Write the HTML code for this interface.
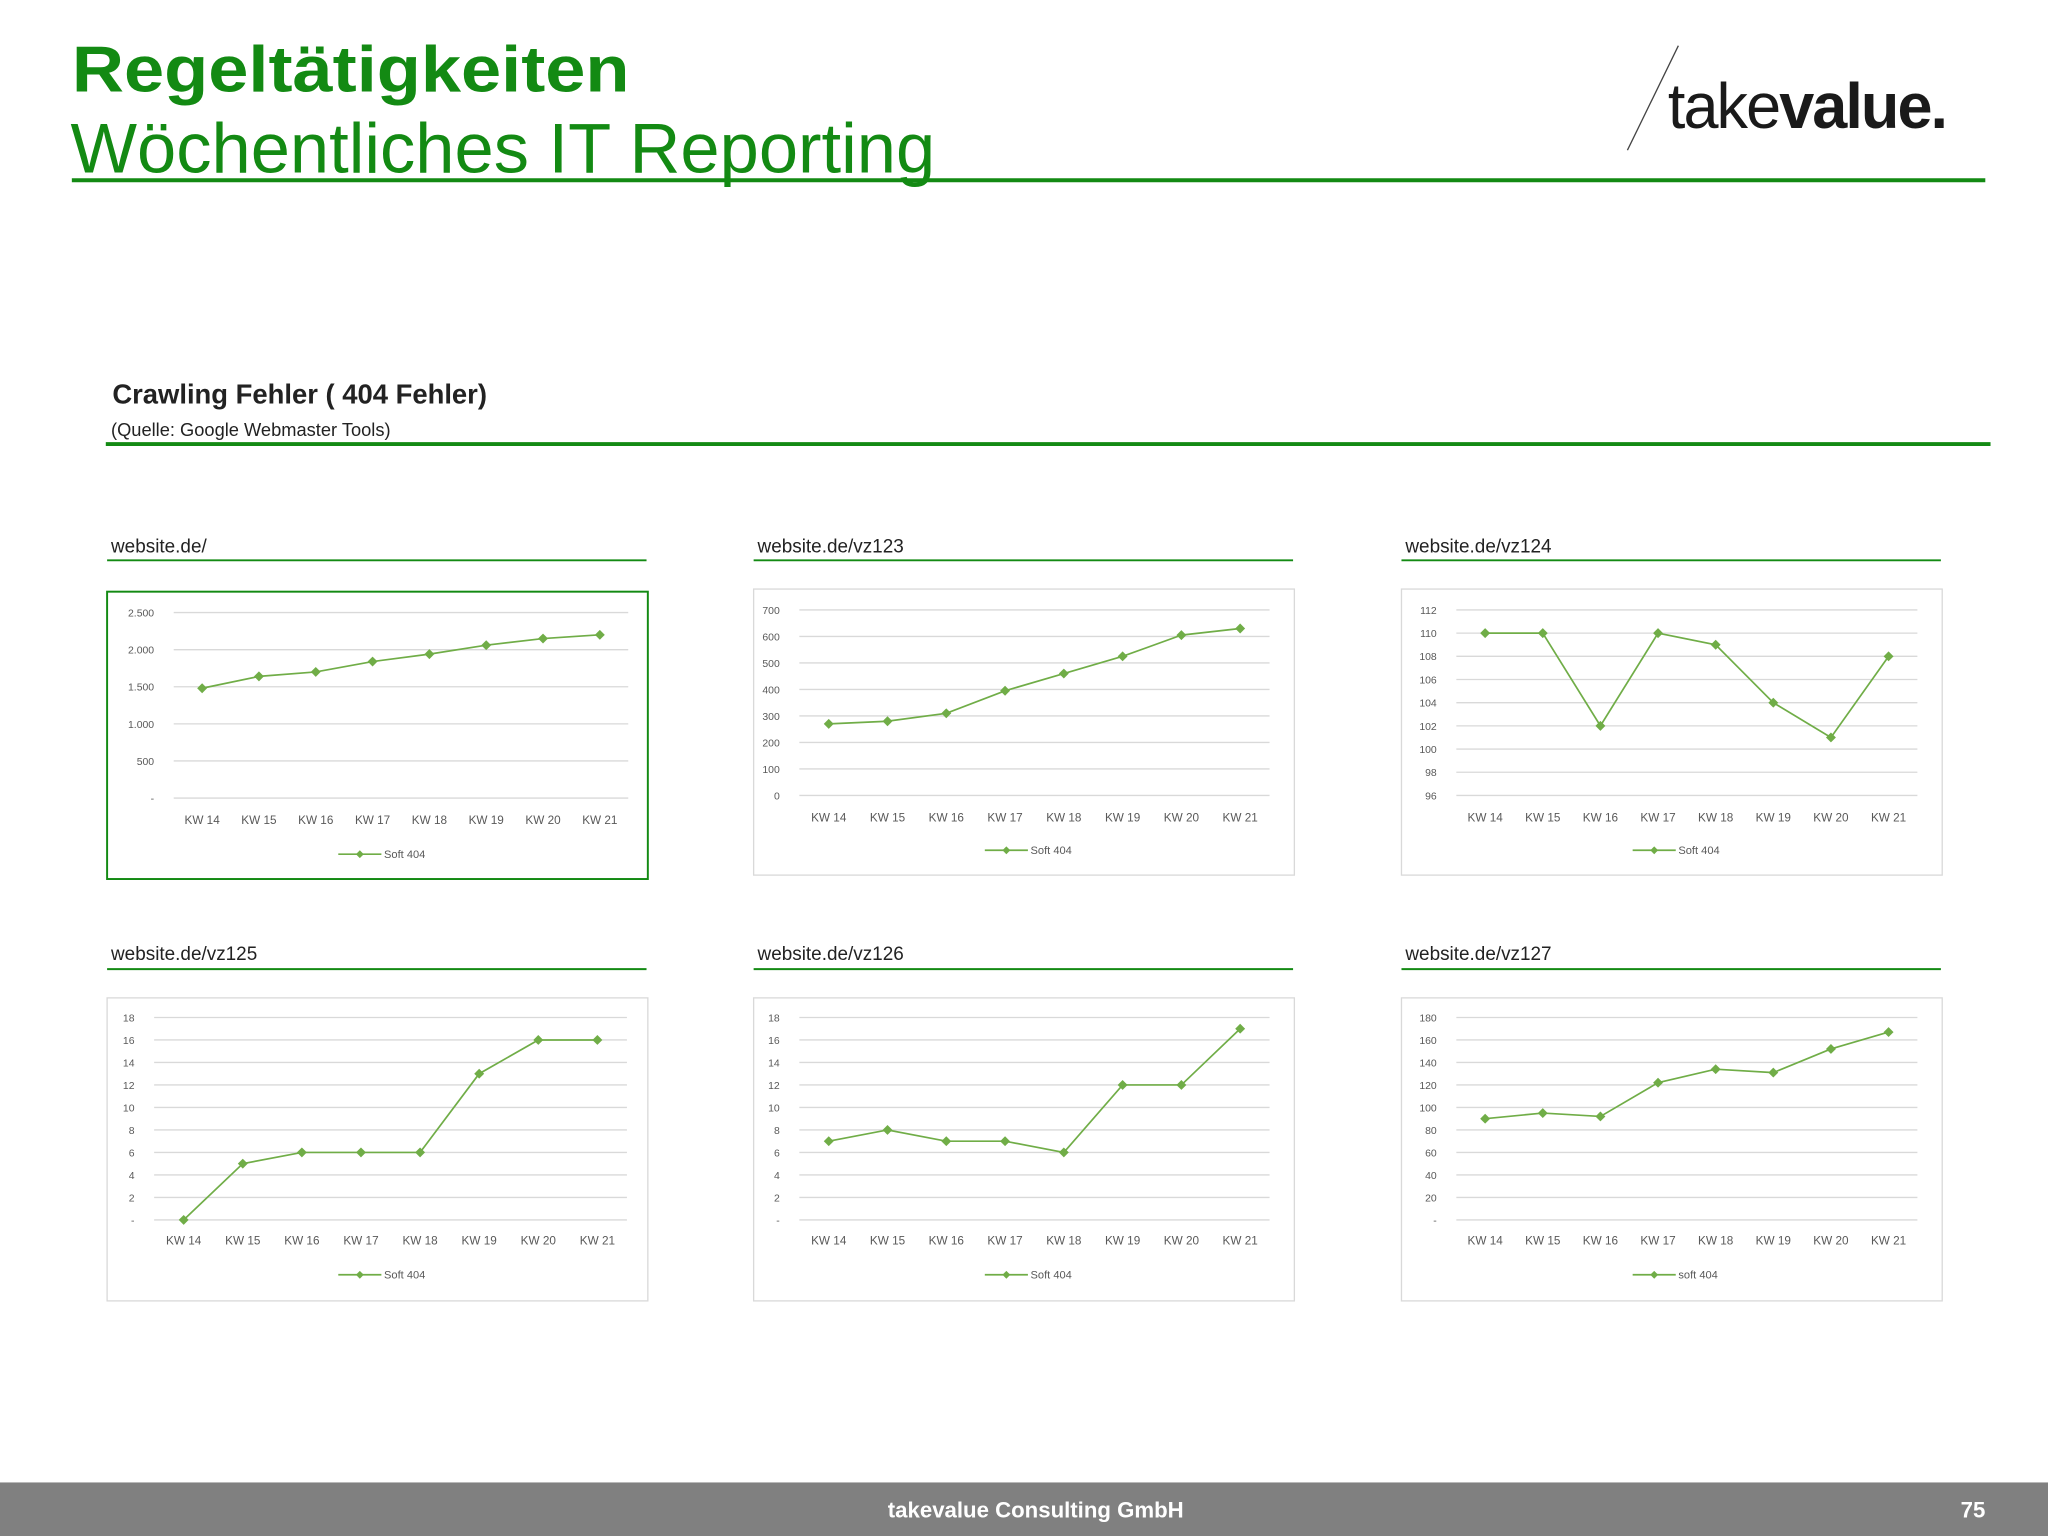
<!DOCTYPE html>
<html><head><meta charset="utf-8"><style>
html,body{margin:0;padding:0;background:#fff;width:2048px;height:1536px;overflow:hidden}
svg{display:block}
text{font-family:"Liberation Sans",sans-serif}
</style></head><body>
<svg id="page" width="2048" height="1536" viewBox="0 0 1568 1176" xmlns="http://www.w3.org/2000/svg">
<text x="55" y="70" font-size="50" font-weight="bold" fill="#138a13" textLength="427" lengthAdjust="spacingAndGlyphs">Regeltätigkeiten</text>
<text x="54" y="132" font-size="54" fill="#138a13" textLength="662" lengthAdjust="spacingAndGlyphs">Wöchentliches IT Reporting</text>
<line x1="55" y1="138" x2="1520" y2="138" stroke="#138a13" stroke-width="3"/>
<line x1="1285" y1="35" x2="1246" y2="115" stroke="#444" stroke-width="1"/>
<text x="1277" y="98" font-size="49" fill="#1a1a1a" letter-spacing="-1.5" textLength="213" lengthAdjust="spacingAndGlyphs">take<tspan font-weight="bold">value.</tspan></text>
<text x="86" y="309" font-size="21" font-weight="bold" fill="#222">Crawling Fehler ( 404 Fehler)</text>
<text x="85" y="334" font-size="14" fill="#222">(Quelle: Google Webmaster Tools)</text>
<line x1="81" y1="340" x2="1524" y2="340" stroke="#138a13" stroke-width="3"/>
<g id="charts"></g>
<rect x="0" y="1135" width="1568" height="41" fill="#808080"/>
<text x="793" y="1162" font-size="17" font-weight="bold" fill="#fff" text-anchor="middle">takevalue Consulting GmbH</text>
<text x="1520" y="1162" font-size="17" font-weight="bold" fill="#fff" text-anchor="end">75</text>
</svg>
<script>
const categories = ["KW 14","KW 15","KW 16","KW 17","KW 18","KW 19","KW 20","KW 21"];
const titles = ["website.de/","website.de/vz123","website.de/vz124","website.de/vz125","website.de/vz126","website.de/vz127"];
const values1 = [1480,1640,1700,1840,1940,2060,2150,2200];
const values2 = [270,280,310,395,460,525,605,630];
const values3 = [110,110,102,110,109,104,101,108];
const values4 = [0,5,6,6,6,13,16,16];
const values5 = [7,8,7,7,6,12,12,17];
const values6 = [90,95,92,122,134,131,152,167];
const ticks1 = [0,500,1000,1500,2000,2500];
const tickLabels1 = ["-","500","1.000","1.500","2.000","2.500"];
const ticks2 = [0,100,200,300,400,500,600,700];
const tickLabels2 = ["0","100","200","300","400","500","600","700"];
const ticks3 = [96,98,100,102,104,106,108,110,112];
const tickLabels3 = ["96","98","100","102","104","106","108","110","112"];
const ticks4 = [0,2,4,6,8,10,12,14,16,18];
const tickLabels4 = ["-","2","4","6","8","10","12","14","16","18"];
const ticks6 = [0,20,40,60,80,100,120,140,160,180];
const tickLabels6 = ["-","20","40","60","80","100","120","140","160","180"];
const legends = ["Soft 404","Soft 404","Soft 404","Soft 404","Soft 404","soft 404"];

const NS="http://www.w3.org/2000/svg";
const root=document.getElementById('charts');
function mk(tag,attrs,parent){const e=document.createElementNS(NS,tag);for(const k in attrs)e.setAttribute(k,attrs[k]);parent.appendChild(e);return e;}

const panels=[
 {bx:82,by:453,bh:220,ly:418,uy:429,pl:51,pr:399,pt:16,pb:158,xl:175,lg:201,vals:values1,ticks:ticks1,tl:tickLabels1,hl:true},
 {bx:577,by:451,bh:219,ly:418,uy:429,pl:35,pr:395,pt:16,pb:158,xl:175,lg:200,vals:values2,ticks:ticks2,tl:tickLabels2},
 {bx:1073,by:451,bh:219,ly:418,uy:429,pl:42,pr:395,pt:16,pb:158,xl:175,lg:200,vals:values3,ticks:ticks3,tl:tickLabels3},
 {bx:82,by:764,bh:232,ly:730,uy:742,pl:36,pr:398,pt:15,pb:170,xl:186,lg:212,vals:values4,ticks:ticks4,tl:tickLabels4},
 {bx:577,by:764,bh:232,ly:730,uy:742,pl:35,pr:395,pt:15,pb:170,xl:186,lg:212,vals:values5,ticks:ticks4,tl:tickLabels4},
 {bx:1073,by:764,bh:232,ly:730,uy:742,pl:42,pr:395,pt:15,pb:170,xl:186,lg:212,vals:values6,ticks:ticks6,tl:tickLabels6}
];
const GREEN="#70ad47";
function diamond(x,y,r){return `M${x},${y-r}L${x+r},${y}L${x},${y+r}L${x-r},${y}Z`;}

panels.forEach((p,i)=>{
 const g=mk('g',{},root);
 
 
 const t=mk('text',{x:p.bx+3,y:p.ly+5,'font-size':14.5,fill:'#222'},g);
 t.textContent=titles[i];
 
 
 const u=mk('line',{x1:p.bx,y1:p.uy,x2:p.bx+413,y2:p.uy,stroke:'#138a13','stroke-width':1.5},g);
 
 
 const box=mk('rect',{x:p.bx,y:p.by,width:414,height:p.bh,fill:'#fff',stroke:p.hl?'#138a13':'#d9d9d9','stroke-width':p.hl?1.5:1},g);
 
 
 const x0=p.bx+p.pl,x1=p.bx+p.pr,yTop=p.by+p.pt,yBot=p.by+p.pb;
 const mn=p.ticks[0],mx=p.ticks[p.ticks.length-1];
 const ys=v=>yBot-(v-mn)/(mx-mn)*(yBot-yTop);
 const band=(x1-x0)/categories.length;
 const xs=j=>x0+band*(j+0.5);
 p.ticks.forEach((tv,k)=>{
  const gl=mk('line',{x1:x0,y1:ys(tv),x2:x1,y2:ys(tv),stroke:'#d9d9d9','stroke-width':1},g);
  
  
  const tl=mk('text',{x:x0-15,y:ys(tv)+3,'font-size':8,fill:'#595959','text-anchor':'end'},g);
  tl.textContent=p.tl[k];
  
  
 });
 categories.forEach((c,j)=>{
  const xl=mk('text',{x:xs(j),y:p.by+p.xl+3,'font-size':9,fill:'#595959','text-anchor':'middle'},g);
  xl.textContent=c;
  
  
 });
 const pts=p.vals.map((v,j)=>xs(j)+','+ys(v)).join(' ');
 const pl=mk('polyline',{points:pts,fill:'none',stroke:GREEN,'stroke-width':1.3},g);
 
 
 p.vals.forEach((v,j)=>{
  const m=mk('path',{d:diamond(xs(j),ys(v),3.8),fill:GREEN},g);
  
  
 });
 const lx=p.bx+177,ly=p.by+p.lg;
 const ll=mk('line',{x1:lx,y1:ly,x2:lx+33,y2:ly,stroke:GREEN,'stroke-width':1.3},g);
 
 
 const lm=mk('path',{d:diamond(lx+16.5,ly,3),fill:GREEN},g);
 
 
 const lt=mk('text',{x:lx+35,y:ly+3,'font-size':8.5,fill:'#595959'},g);
 lt.textContent=legends[i];
 
 
});
</script>
</body></html>
